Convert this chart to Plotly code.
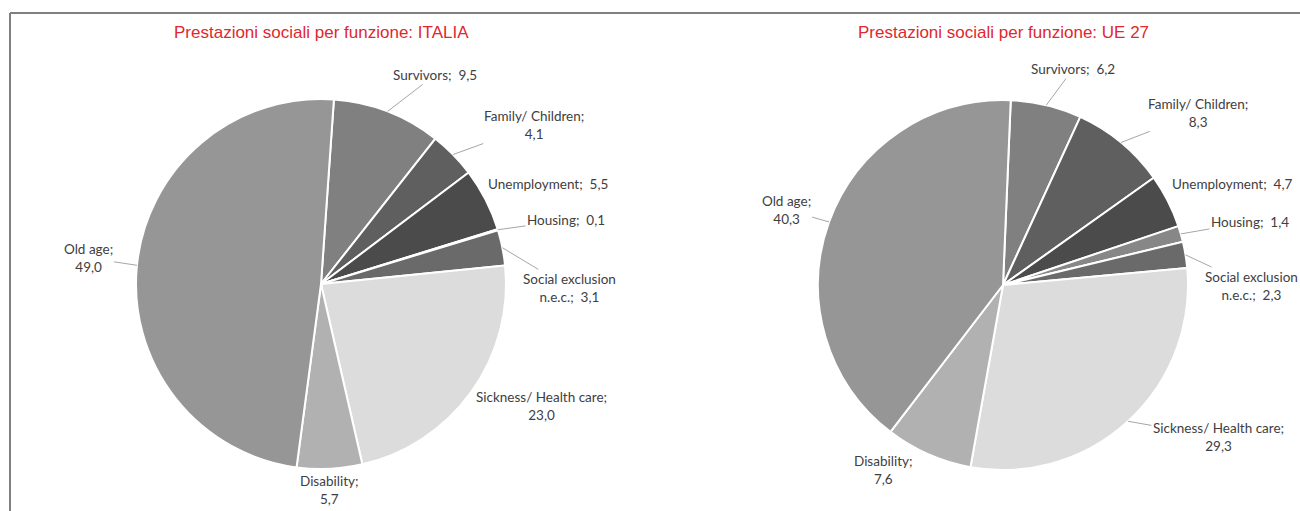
import math
import plotly.graph_objects as go

# ---------------- data ----------------
categories = ["Survivors", "Family/ Children", "Unemployment", "Housing",
              "Social exclusion n.e.c.", "Sickness/ Health care", "Disability", "Old age"]
italia_values = [9.5, 4.1, 5.5, 0.1, 3.1, 23.0, 5.7, 49.0]
ue27_values = [6.2, 8.3, 4.7, 1.4, 2.3, 29.3, 7.6, 40.3]
chart_titles = ["Prestazioni sociali per funzione: ITALIA",
                "Prestazioni sociali per funzione: UE 27"]

# ---------------- style ----------------
W, H = 1300, 511
slice_colors = ["#808080", "#5f5f5f", "#4b4b4b", "#878787",
                "#6a6a6a", "#dcdcdc", "#b1b1b1", "#969696"]
# how the label text is broken (display only)
label_fmt = {
    "Survivors": "{n};  {v}",
    "Family/ Children": "{n};<br>{v}",
    "Unemployment": "{n};  {v}",
    "Housing": "{n};  {v}",
    "Social exclusion n.e.c.": "Social exclusion<br>n.e.c.;  {v}",
    "Sickness/ Health care": "{n};<br>{v}",
    "Disability": "{n};<br>{v}",
    "Old age": "{n};<br>{v}",
}
pies = [
    dict(values=italia_values, title=chart_titles[0], cx=321, cy=284, r=185, rot=4.0,
         dtheta=[7.5, 7.7, 3.3, 2.5, 12.2, -6.7, 0.5, 0.6],
         k=[1.287, 1.437, 1.34, 1.369, 1.341, 1.36, 1.115, 1.267],
         leader=[True, True, False, True, True, False, False, True]),
    dict(values=ue27_values, title=chart_titles[1], cx=1003, cy=285, r=185, rot=2.4,
         dtheta=[4.4, 8.9, 3.1, 1.7, 9.5, -12.2, 9.2, -0.8],
         k=[1.227, 1.405, 1.353, 1.378, 1.341, 1.426, 1.195, 1.241],
         leader=[True, True, False, True, True, True, False, True]),
]
label_font = dict(family="Lato, 'Gill Sans', 'Noto Sans', sans-serif", size=13.5, color="#404040")
title_font = dict(family="'Liberation Sans Narrow', 'Arial Narrow', 'Liberation Sans', sans-serif",
                  size=17, color="#E0282E")


def fmt(v):
    return f"{v:.1f}".replace(".", ",")


fig = go.Figure()
annotations = []
for p in pies:
    cx, cy, r = p["cx"], p["cy"], p["r"]
    fig.add_trace(go.Pie(
        labels=categories, values=p["values"], sort=False, direction="clockwise",
        rotation=p["rot"], textinfo="none", showlegend=False,
        marker=dict(colors=slice_colors, line=dict(color="white", width=2)),
        domain=dict(x=[(cx - r) / W, (cx + r) / W], y=[(H - cy - r) / H, (H - cy + r) / H]),
    ))
    annotations.append(dict(text=p["title"], x=cx / W, y=1 - 33 / H, xref="paper", yref="paper",
                            showarrow=False, font=title_font, xanchor="center", yanchor="middle"))
    total = sum(p["values"])
    cum = 0.0
    for i, (name, v) in enumerate(zip(categories, p["values"])):
        mid = p["rot"] + (cum + v / 2) / total * 360.0
        cum += v
        la = math.radians(mid + p["dtheta"][i])
        lx = cx + p["k"][i] * r * math.sin(la)
        ly = cy - p["k"][i] * r * math.cos(la)
        text = label_fmt[name].format(n=name, v=fmt(v))
        if p["leader"][i]:
            ma = math.radians(mid)
            tx = cx + r * math.sin(ma)
            ty = cy - r * math.cos(ma)
            annotations.append(dict(text=text, x=tx / W, y=1 - ty / H, xref="paper", yref="paper",
                                    ax=lx - tx, ay=ly - ty, showarrow=True, arrowhead=0,
                                    arrowwidth=1, arrowcolor="#a6a6a6", standoff=0,
                                    font=label_font, align="center"))
        else:
            annotations.append(dict(text=text, x=lx / W, y=1 - ly / H, xref="paper", yref="paper",
                                    showarrow=False, font=label_font, align="center",
                                    xanchor="center", yanchor="middle"))

shapes = [
    dict(type="line", xref="paper", yref="paper", x0=10 / W, x1=1, y0=1 - 13 / H, y1=1 - 13 / H,
         line=dict(color="#808080", width=2)),
    dict(type="line", xref="paper", yref="paper", x0=10 / W, x1=10 / W, y0=1 - 13 / H, y1=0,
         line=dict(color="#808080", width=2)),
]

fig.update_layout(width=W, height=H, margin=dict(l=0, r=0, t=0, b=0),
                  paper_bgcolor="white", plot_bgcolor="white",
                  annotations=annotations, shapes=shapes)
fig.write_html("out.html")
